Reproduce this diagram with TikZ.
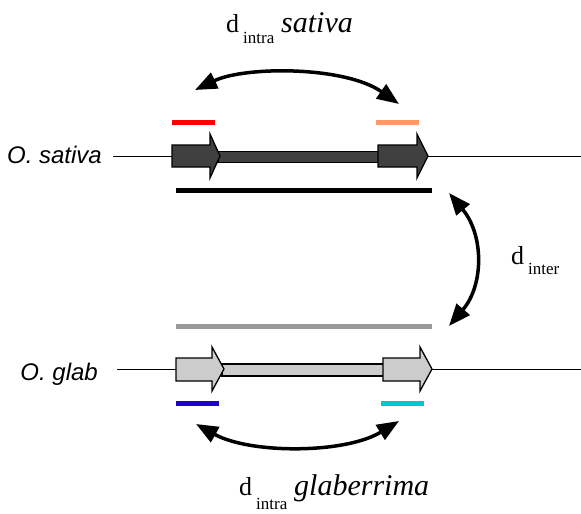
\documentclass[tikz,border=0pt]{standalone}
\usepackage{fontspec}
\setmainfont{Liberation Serif}
\setsansfont{Liberation Sans}
\usetikzlibrary{arrows.meta}
\definecolor{darkgene}{HTML}{404040}
\definecolor{lightgene}{HTML}{CCCCCC}
\definecolor{graybar}{HTML}{999999}
\definecolor{redbar}{HTML}{FF0000}
\definecolor{orangebar}{HTML}{FF9966}
\definecolor{bluebar}{HTML}{1E00CC}
\definecolor{cyanbar}{HTML}{00C8C8}
\begin{document}
\begin{tikzpicture}[x=1pt,y=-1pt,
  chrom/.style={line width=0.9pt},
  genedark/.style={draw=black,line width=1.3pt,fill=darkgene,line join=miter},
  genelight/.style={draw=black,line width=1.3pt,fill=lightgene,line join=miter},
  bar/.style={line width=5pt},
  dist/.style={line width=3.5pt,{Triangle[length=22pt,width=17pt]}-{Triangle[length=22pt,width=17pt]}},
  splabel/.style={font=\sffamily\itshape\fontsize{24}{28}\selectfont,anchor=base east,inner sep=0pt},
  dlabel/.style={font=\fontsize{26}{30}\selectfont,inner sep=0pt,anchor=base west},
  sublabel/.style={font=\fontsize{17}{20}\selectfont,inner sep=0pt,anchor=base west},
  spname/.style={font=\itshape\fontsize{30}{34}\selectfont,inner sep=0pt,anchor=base west}
]
\useasboundingbox (0,0) rectangle (581,514);
% ---------- O. sativa ----------
\node[splabel] (sat) at (102,163) {O. sativa};
\coordinate (satL) at (113,156);
\coordinate (satR) at (581,156);
\draw[chrom] (satL) -- (satR);
\draw[genedark] (218,151.5) rectangle (380,162.5);
\draw[genedark] (172,145) -- (210,145) -- (210,134) -- (220,156) -- (210,178) -- (210,167) -- (172,167) -- cycle;
\draw[genedark] (378,145) -- (417,145) -- (417,134) -- (428,156) -- (417,178) -- (417,167) -- (378,167) -- cycle;
\draw[bar,redbar] (172,122.5) -- (215,122.5);
\draw[bar,orangebar] (376,122.5) -- (419,122.5);
\draw[bar,black] (176,190.5) -- (432,190.5);
% ---------- O. glab ----------
\node[splabel] (glab) at (98,380) {O. glab};
\coordinate (glbL) at (117,369);
\coordinate (glbR) at (581,369);
\draw[chrom] (glbL) -- (glbR);
\draw[genelight] (222,364) rectangle (385,376);
\draw[genelight] (176,358) -- (212,358) -- (212,347) -- (224,369) -- (212,391) -- (212,381) -- (176,381) -- cycle;
\draw[genelight] (383,358) -- (420,358) -- (420,347) -- (432,369) -- (420,391) -- (420,381) -- (383,381) -- cycle;
\draw[bar,graybar] (176,326.5) -- (432,326.5);
\draw[bar,bluebar] (176,403.5) -- (219,403.5);
\draw[bar,cyanbar] (381,403.5) -- (424,403.5);
% ---------- distance arrows ----------
\coordinate (a1) at (195,90);
\coordinate (a2) at (399,104);
\draw[dist] (a1) .. controls (245,66) and (345,66) .. (a2);
\coordinate (b1) at (196,424);
\coordinate (b2) at (399,421);
\draw[dist] (b1) .. controls (250,454) and (345,454) .. (b2);
\coordinate (c1) at (449,193);
\coordinate (c2) at (449,326);
\draw[dist] (c1) .. controls (484,235) and (484,285) .. (c2);
% ---------- labels ----------
\node[dlabel] (dsat) at (226,32) {d};
\node[sublabel] (dsatsub) at (243,43) {intra};
\node[spname] (dsatsp) at (281,32) {sativa};
\node[dlabel] (dglb) at (239,495) {d};
\node[sublabel] (dglbsub) at (256,509) {intra};
\node[spname] (dglbsp) at (294,495) {glaberrima};
\node[dlabel] (dint) at (511,264) {d};
\node[sublabel] (dintsub) at (528,274) {inter};
\end{tikzpicture}
\end{document}
